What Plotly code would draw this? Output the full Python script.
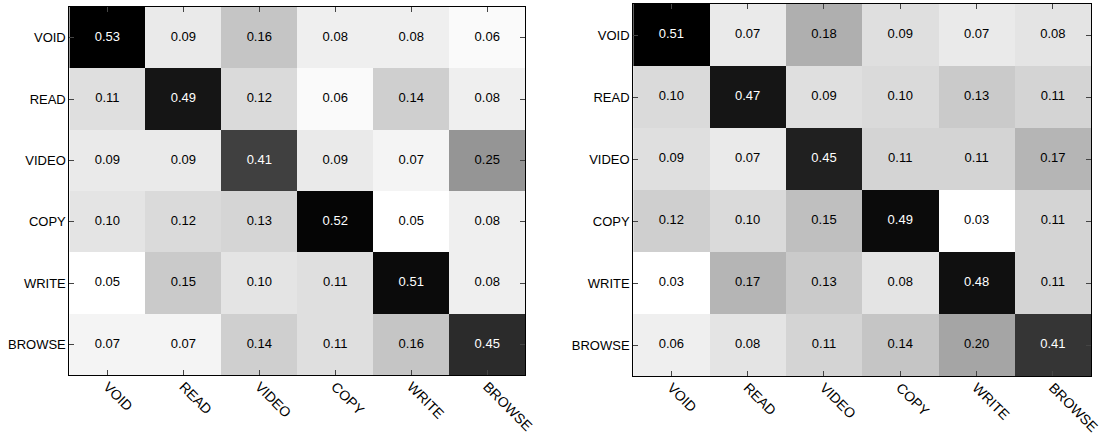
import plotly.graph_objects as go

labels = ["VOID", "READ", "VIDEO", "COPY", "WRITE", "BROWSE"]

left_values = [
    [0.53, 0.09, 0.16, 0.08, 0.08, 0.06],
    [0.11, 0.49, 0.12, 0.06, 0.14, 0.08],
    [0.09, 0.09, 0.41, 0.09, 0.07, 0.25],
    [0.10, 0.12, 0.13, 0.52, 0.05, 0.08],
    [0.05, 0.15, 0.10, 0.11, 0.51, 0.08],
    [0.07, 0.07, 0.14, 0.11, 0.16, 0.45],
]

right_values = [
    [0.51, 0.07, 0.18, 0.09, 0.07, 0.08],
    [0.10, 0.47, 0.09, 0.10, 0.13, 0.11],
    [0.09, 0.07, 0.45, 0.11, 0.11, 0.17],
    [0.12, 0.10, 0.15, 0.49, 0.03, 0.11],
    [0.03, 0.17, 0.13, 0.08, 0.48, 0.11],
    [0.06, 0.08, 0.11, 0.14, 0.20, 0.41],
]

FONT = "Liberation Sans, Arial, Helvetica, sans-serif"
fig = go.Figure()

panels = [
    (left_values, "x", "y", "xaxis", "yaxis", [70 / 1104, 530 / 1104], [1 - 375 / 440, 1 - 7 / 440]),
    (right_values, "x2", "y2", "xaxis2", "yaxis2", [639 / 1104, 1101 / 1104], [1 - 376 / 440, 1 - 4 / 440]),
]

for vals, xr, yr, xk, yk, xd, yd in panels:
    flat = [v for row in vals for v in row]
    zmin, zmax = min(flat), max(flat)
    fig.add_trace(go.Heatmap(
        z=vals, x=labels, y=labels, xaxis=xr, yaxis=yr,
        colorscale=[[0, "white"], [1, "black"]], zmin=zmin, zmax=zmax,
        showscale=False, hoverinfo="skip",
    ))
    xs, ys, texts, colors = [], [], [], []
    for i, row in enumerate(vals):
        for j, v in enumerate(row):
            xs.append(labels[j]); ys.append(labels[i])
            texts.append(f"{v:.2f}")
            frac = (v - zmin) / (zmax - zmin)
            colors.append("white" if frac > 0.6 else "black")
    fig.add_trace(go.Scatter(
        x=xs, y=ys, xaxis=xr, yaxis=yr, mode="text", text=texts,
        textfont=dict(family=FONT, size=13, color=colors),
        hoverinfo="skip", showlegend=False,
    ))
    common = dict(showline=True, linecolor="black", linewidth=1, mirror="ticks",
                  ticks="inside", ticklen=5, tickcolor="#444", tickwidth=1,
                  showgrid=False, zeroline=False)
    fig.layout[xk] = dict(domain=xd, anchor=yr, type="category",
                          range=[-0.5, 5.5], tickangle=45, ticklabelstandoff=-3,
                          tickfont=dict(family=FONT, size=14, color="black"), **common)
    fig.layout[yk] = dict(domain=yd, anchor=xr, type="category",
                          range=[5.5, -0.5],
                          tickfont=dict(family=FONT, size=13, color="black"), **common)

fig.update_layout(
    width=1104, height=440,
    margin=dict(l=0, r=0, t=0, b=0),
    paper_bgcolor="white", plot_bgcolor="white",
    showlegend=False,
)

fig.write_html("out.html")
